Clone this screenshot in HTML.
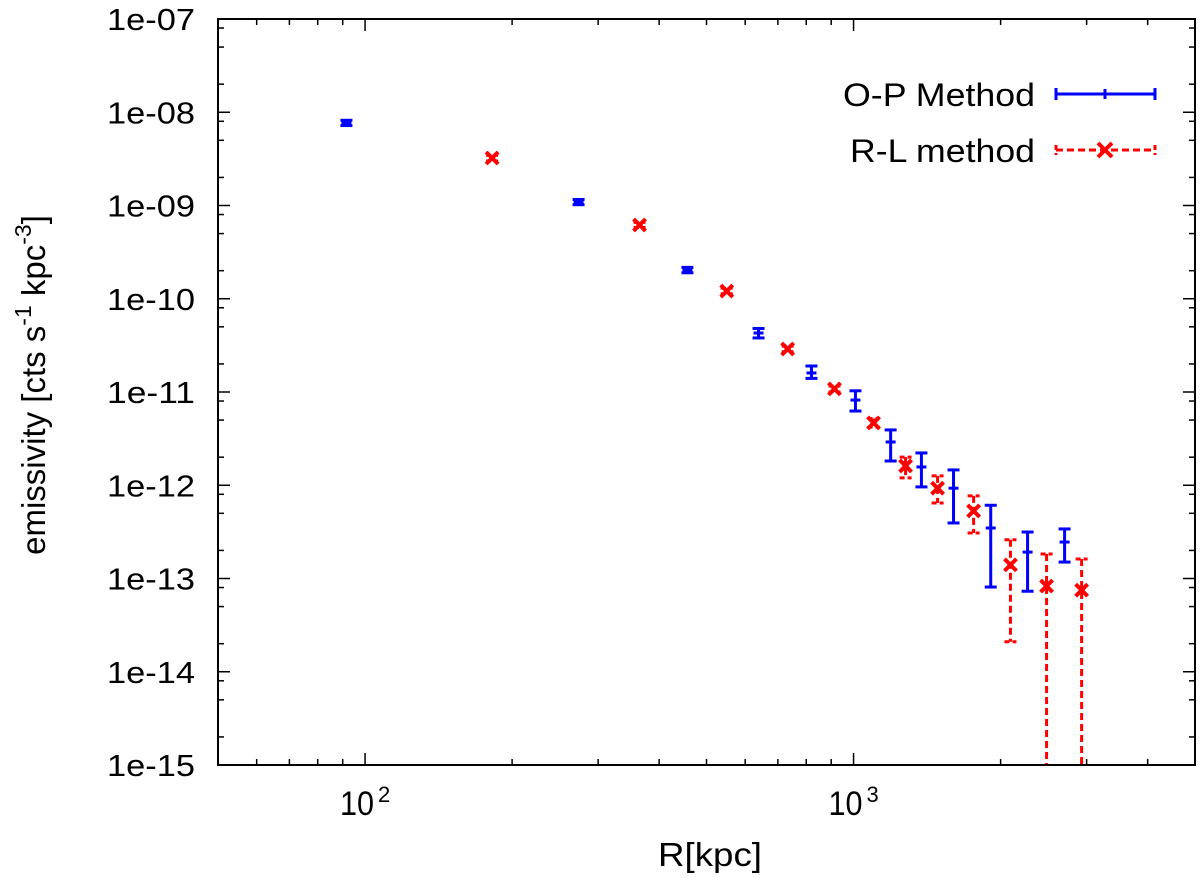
<!DOCTYPE html>
<html><head><meta charset="utf-8"><style>
body{margin:0;background:#fff;}
svg{display:block;font-family:"Liberation Sans",sans-serif;}
</style></head><body>
<svg id="chart" width="1200" height="878" viewBox="0 0 1200 878" xmlns="http://www.w3.org/2000/svg">
<rect width="1200" height="878" fill="#fff"/>
<g id="ticks"></g>
<g id="labels"></g>
<g id="marks"></g>
<rect x="218" y="19" width="977" height="746" fill="none" stroke="#000" stroke-width="2"/>
<text x="658" y="866" font-size="33" textLength="104" lengthAdjust="spacingAndGlyphs">R[kpc]</text>
<text transform="translate(45,385) rotate(-90)" font-size="33" text-anchor="middle">emissivity [cts s<tspan dy="-14" font-size="23">-1</tspan><tspan dy="14"> kpc</tspan><tspan dy="-14" font-size="23">-3</tspan><tspan dy="14">]</tspan></text>
<g>
<text x="843" y="106" font-size="32" textLength="192" lengthAdjust="spacingAndGlyphs">O-P Method</text>
<g stroke="#0000ff" stroke-width="3">
<line x1="1056" y1="94" x2="1155" y2="94"/><line x1="1056" y1="88" x2="1056" y2="100"/><line x1="1155" y1="88" x2="1155" y2="100"/><line x1="1105" y1="89" x2="1105" y2="99"/>
</g>
<text x="850" y="162" font-size="32" textLength="185" lengthAdjust="spacingAndGlyphs">R-L method</text>
<g stroke="#ff0000" stroke-width="3">
<line x1="1056" y1="150" x2="1155" y2="150" stroke-dasharray="7,4"/><line x1="1056" y1="145" x2="1056" y2="155" stroke-dasharray="5,3"/><line x1="1155" y1="145" x2="1155" y2="155" stroke-dasharray="5,3"/>
<line x1="1098" y1="143" x2="1112" y2="157" stroke-width="4"/><line x1="1098" y1="157" x2="1112" y2="143" stroke-width="4"/>
</g>
</g>
</svg>
<script>
const blueX=[91.6,273.6,457,639,820,1009,1191,1377,1602,1909,2271,2704];
const blueY=[7.67e-9,1.09e-9,2.03e-10,4.29e-11,1.60e-11,8.2e-12,2.91e-12,1.57e-12,9.3e-13,3.48e-13,1.92e-13,2.46e-13];
const blueLo=[7.2e-9,1.02e-9,1.9e-10,3.8e-11,1.4e-11,6.25e-12,1.82e-12,9.6e-13,3.94e-13,8.1e-14,7.3e-14,1.5e-13];
const blueHi=[8.2e-9,1.16e-9,2.17e-10,4.8e-11,1.9e-11,1.03e-11,3.92e-12,2.22e-12,1.46e-12,6.1e-13,3.15e-13,3.4e-13];
const redX=[182,364.7,550,733,914,1099,1278,1486,1761,2095,2484,2930];
const redY=[3.23e-9,6.18e-10,1.21e-10,2.89e-11,1.08e-11,4.66e-12,1.61e-12,9.3e-13,5.3e-13,1.40e-13,8.3e-14,7.5e-14];
const redLo=[3.0e-9,5.8e-10,1.13e-10,2.7e-11,1.0e-11,4.2e-12,1.2e-12,6.45e-13,3.08e-13,2.1e-14,1e-16,1e-16];
const redHi=[3.45e-9,6.6e-10,1.3e-10,3.1e-11,1.16e-11,5.2e-12,2.0e-12,1.26e-12,7.7e-13,2.6e-13,1.83e-13,1.62e-13];
const yTickExps=[-7,-8,-9,-10,-11,-12,-13,-14,-15];
const yTickLabels=["1e-07","1e-08","1e-09","1e-10","1e-11","1e-12","1e-13","1e-14","1e-15"];
const xTickExps=[2,3];

const L=218,R=1195,T=19,B=765;
const xmin=Math.log10(50),xmax=Math.log10(5000),ymin=-15,ymax=-7;
function sx(v){return L+(Math.log10(v)-xmin)/(xmax-xmin)*(R-L);}
function sy(v){const l=Math.max(Math.log10(v),ymin);return B-(l-ymin)/(ymax-ymin)*(B-T);}
const NS="http://www.w3.org/2000/svg";
function mk(tag,attrs,parent){const e=document.createElementNS(NS,tag);for(const k in attrs)e.setAttribute(k,attrs[k]);parent.appendChild(e);return e;}
const gt=document.getElementById('ticks'),gl=document.getElementById('labels'),gm=document.getElementById('marks');

for(let e=-15;e<=-7;e++){
  const y=sy(Math.pow(10,e));
  let t=mk('line',{x1:L,y1:y,x2:L+12,y2:y,stroke:'#000','stroke-width':1.5},gt);
  
  
  t=mk('line',{x1:R,y1:y,x2:R-12,y2:y,stroke:'#000','stroke-width':1.5},gt);
  
  
  if(e<-7){for(const m of [2,5,8]){
    const yy=sy(m*Math.pow(10,e));
    let a=mk('line',{x1:L,y1:yy,x2:L+6,y2:yy,stroke:'#000','stroke-width':1.5},gt);
    
    
    a=mk('line',{x1:R,y1:yy,x2:R-6,y2:yy,stroke:'#000','stroke-width':1.5},gt);
    
    
  }}
}
yTickExps.forEach((e,i)=>{
  const t=mk('text',{x:107,y:sy(Math.pow(10,e))+11,'font-size':31,textLength:88,lengthAdjust:'spacingAndGlyphs'},gl);
  t.textContent=yTickLabels[i];
  
  
});
for(let d=1;d<=3;d++){for(let m=1;m<=9;m++){
  const v=m*Math.pow(10,d); if(v<50||v>5000)continue;
  const x=sx(v),len=m===1?12:6;
  let a=mk('line',{x1:x,y1:B,x2:x,y2:B-len,stroke:'#000','stroke-width':1.5},gt);
  
  
  a=mk('line',{x1:x,y1:T,x2:x,y2:T+len,stroke:'#000','stroke-width':1.5},gt);
  
  
}}
xTickExps.forEach(e=>{
  const x=sx(Math.pow(10,e));
  const t=mk('text',{x:x-25,y:815,'font-size':34,textLength:34,lengthAdjust:'spacingAndGlyphs'},gl);
  t.textContent='10';
  
  
  const s=mk('text',{x:x+13,y:802,'font-size':22},gl);
  s.textContent=String(e);
  
  
});
blueX.forEach((xv,i)=>{
  const g=mk('g',{stroke:'#0000ff','stroke-width':3},gm);
  
  
  const x=sx(xv),y1=sy(blueHi[i]),y2=sy(blueLo[i]),y=sy(blueY[i]);
  mk('line',{x1:x,y1:y1,x2:x,y2:y2},g);
  mk('line',{x1:x-6,y1:y1,x2:x+6,y2:y1},g);
  mk('line',{x1:x-6,y1:y2,x2:x+6,y2:y2},g);
  mk('line',{x1:x-5,y1:y,x2:x+5,y2:y},g);
});
redX.forEach((xv,i)=>{
  const g=mk('g',{stroke:'#ff0000','stroke-width':3},gm);
  
  
  const x=sx(xv),y1=sy(redHi[i]),y2=sy(redLo[i]),y=sy(redY[i]);
  mk('line',{x1:x,y1:y1,x2:x,y2:y2,'stroke-dasharray':'7,4'},g);
  mk('line',{x1:x-6,y1:y1,x2:x+6,y2:y1,'stroke-dasharray':'5,3'},g);
  if(y2<B-1) mk('line',{x1:x-6,y1:y2,x2:x+6,y2:y2,'stroke-dasharray':'5,3'},g);
  mk('line',{x1:x-6,y1:y-6,x2:x+6,y2:y+6,'stroke-width':4},g);
  mk('line',{x1:x-6,y1:y+6,x2:x+6,y2:y-6,'stroke-width':4},g);
});
</script>
</body></html>
